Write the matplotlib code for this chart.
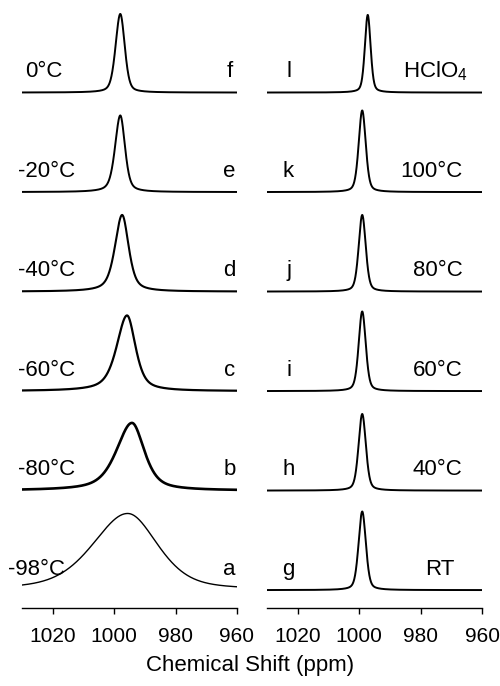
import numpy as np
import matplotlib
matplotlib.use("Agg")
import matplotlib.pyplot as plt

plt.rcParams['font.family'] = ['Liberation Sans', 'DejaVu Sans']
plt.rcParams['mathtext.fontset'] = 'custom'
plt.rcParams['mathtext.rm'] = 'Liberation Sans'

# left column, bottom to top (a..f)
left_temps = ['-98°C', '-80°C', '-60°C', '-40°C', '-20°C', '0°C']
left_letters = ['a', 'b', 'c', 'd', 'e', 'f']
left_center = [995.6, 994.2, 995.8, 997.4, 998.0, 998.0]   # ppm
left_fwhm_hi = [27.0, 12.0, 8.0, 5.5, 4.0, 3.6]            # high-ppm side
left_fwhm_lo = [23.0, 9.5, 6.5, 5.0, 3.6, 3.4]             # low-ppm side
left_height = [0.77, 0.68, 0.76, 0.77, 0.77, 0.79]
left_eta = [0.45, 0.6, 0.6, 0.55, 0.45, 0.35]

# right column, bottom to top (g..l)
right_temps = ['RT', '40°C', '60°C', '80°C', '100°C', 'HClO$_4$']
right_letters = ['g', 'h', 'i', 'j', 'k', 'l']
right_center = [999.0, 999.0, 999.0, 999.0, 999.0, 997.2]
right_fwhm = [2.8, 2.8, 2.7, 2.7, 2.7, 2.2]
right_height = [0.79, 0.77, 0.8, 0.77, 0.82, 0.78]
right_eta = [0.35, 0.35, 0.35, 0.35, 0.35, 0.35]

ticks = [1020, 1000, 980, 960]
ppm = np.linspace(1030, 960, 1400)

# style / placement (ppm coords for the text)
left_lw = [1.0, 1.9, 1.6, 1.5, 1.4, 1.4]
left_label_x = [1034.7, 1031.4, 1031.4, 1031.4, 1031.4, 1029.0]
right_label_x = [968.8, 966.4, 966.4, 966.4, 966.4, 964.5]


def line(c, w_hi, w_lo, h, eta):
    w = np.where(ppm > c, w_hi, w_lo) / 2.0
    u = (ppm - c) / w
    return h * (eta / (1 + u ** 2) + (1 - eta) * np.exp(-np.log(2) * u ** 2))


fig = plt.figure(figsize=(5, 6.86), dpi=100)
axl = fig.add_axes([0.044, 0.1137, 0.43, 0.8863])
axr = fig.add_axes([0.534, 0.1137, 0.43, 0.8863])

for i in range(6):
    y = line(left_center[i], left_fwhm_hi[i], left_fwhm_lo[i], left_height[i], left_eta[i])
    axl.plot(ppm, y + i, color='black', lw=left_lw[i])
    axl.text(left_label_x[i], i + 0.21, left_temps[i], fontsize=16, ha='left', va='center', clip_on=False)
    axl.text(962.5, i + 0.21, left_letters[i], fontsize=16, ha='center', va='center')

    y = line(right_center[i], right_fwhm[i], right_fwhm[i], right_height[i], right_eta[i])
    axr.plot(ppm, y + i, color='black', lw=1.4)
    axr.text(1023.0, i + 0.21, right_letters[i], fontsize=16, ha='center', va='center')
    axr.text(right_label_x[i], i + 0.21, right_temps[i], fontsize=16, ha='right', va='center')

for ax in (axl, axr):
    ax.set_xlim(1030, 960)
    ax.set_ylim(-0.18, 5.93)
    for s in ('top', 'left', 'right'):
        ax.spines[s].set_visible(False)
    ax.spines['bottom'].set_linewidth(1.0)
    ax.set_yticks([])
    ax.set_xticks(ticks)
    ax.tick_params(axis='x', direction='out', length=4, width=1, pad=10, labelsize=15)

fig.text(0.5, 0.03, 'Chemical Shift (ppm)', fontsize=16, ha='center', va='center')

fig.savefig('out.png', dpi=100)
